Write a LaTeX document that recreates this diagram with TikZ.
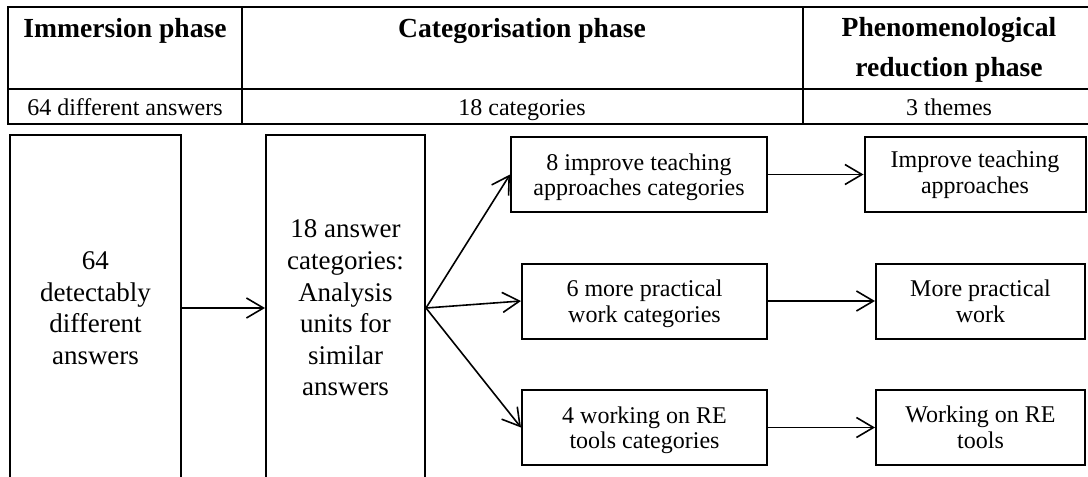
\documentclass[tikz,border=0pt]{standalone}
\usepackage{fontspec}
\setmainfont{Liberation Serif}
\usetikzlibrary{arrows.meta}

\begin{document}
\begin{tikzpicture}[
            x=0.5pt, y=-0.5pt,
            grow'=right,
            box/.style={draw, line width=1pt, align=center, inner sep=2pt},
            bigbox/.style={box, minimum height=173pt, font=\fontsize{13.5}{15.8}\selectfont},
            smallbox/.style={box, minimum height=37.5pt, font=\fontsize{12}{12.8}\selectfont},
            catbox/.style={smallbox, text depth=-2.5pt},
            head/.style={font=\bfseries\fontsize{13.8}{20}\selectfont, align=center, anchor=base},
            count/.style={font=\fontsize{12}{14}\selectfont, anchor=base},
            edge from parent/.style={draw, line width=0.8pt, -{Straight Barb[length=8.5pt,width=10pt]}},
            edge from parent path={(\tikzparentnode.east) -- (\tikzchildnode.west)},
            level 1/.style={level distance=125pt},
            level 2/.style={level distance=149.5pt, sibling distance=63.25pt},
            level 3/.style={level distance=168pt}
        ]

        \useasboundingbox (0,0) rectangle (1088,477);
        \clip (0,0) rectangle (1088,477);

        \draw[line width=0.8pt] (8,7) rectangle (1095,124);
        \draw[line width=0.8pt] (8,89) -- (1095,89);
        \draw[line width=0.8pt] (242,7) -- (242,124);
        \draw[line width=0.8pt] (803,7) -- (803,124);

        \node[head] (immhead) at (125,37.7) {Immersion phase};
        \node[head] (cathead) at (522,37.7) {Categorisation phase};
        \node[head] (phenhead) at (949,76) {Phenomenological\\reduction phase};
        \node[count] (immcount) at (125,115) {64 different answers};
        \node[count] (catcount) at (522,115) {18 categories};
        \node[count] (phencount) at (949,115) {3 themes};

        \node[bigbox, minimum width=85.5pt] (answers) at (95.5,308) {64\\detectably\\different\\answers}
        child {node[bigbox, minimum width=79.5pt] (units) {18 answer\\categories:\\Analysis\\units for\\similar\\answers}
                child[xshift=-2.75pt, yshift=3.5pt] {node[catbox, minimum width=128pt] (teachcat) {8 improve teaching\\approaches categories}
                        child {node[smallbox, minimum width=110.5pt] (teach) {Improve teaching\\approaches}}
                    }
                child[yshift=3.5pt] {node[catbox, minimum width=122.5pt] (practcat) {6 more practical\\work categories}
                        child {node[smallbox, minimum width=104.5pt] (pract) {More practical\\work}}
                    }
                child[yshift=3.5pt] {node[catbox, minimum width=122.5pt] (toolcat) {4 working on RE\\tools categories}
                        child {node[smallbox, minimum width=104.5pt] (tools) {Working on RE\\tools}}
                    }
            };

    \end{tikzpicture}
\end{document}
